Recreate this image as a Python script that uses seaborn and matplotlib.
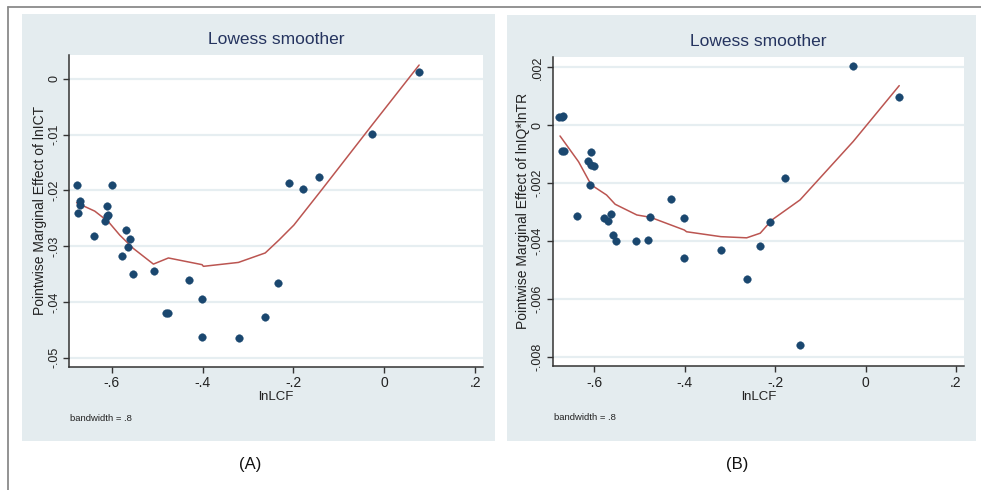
import matplotlib
matplotlib.use("Agg")
import matplotlib.pyplot as plt
import seaborn as sns
import pandas as pd
from matplotlib.patches import Rectangle
from matplotlib.lines import Line2D

# ---------------- data ----------------
a_x = [-0.677, -0.670, -0.670, -0.674, -0.638, -0.599, -0.609, -0.608, -0.611, -0.615,
       -0.569, -0.559, -0.563, -0.578, -0.553, -0.507, -0.480, -0.475, -0.430, -0.401,
       -0.401, -0.320, -0.263, -0.233, -0.210, -0.178, -0.143, -0.0265, 0.0757]
a_y = [-0.0190, -0.0219, -0.0226, -0.0240, -0.0281, -0.0190, -0.0227, -0.0244, -0.0246, -0.0255,
       -0.0271, -0.0287, -0.0302, -0.0317, -0.0349, -0.0344, -0.0420, -0.0420, -0.0361, -0.0395,
       -0.0463, -0.0464, -0.0427, -0.0365, -0.0187, -0.0198, -0.0175, -0.0099, 0.0012]
a_fit_x = [-0.677, -0.637, -0.607, -0.582, -0.552, -0.508, -0.475, -0.401, -0.398,
           -0.321, -0.262, -0.232, -0.199, -0.140, -0.0265, 0.0765]
a_fit_y = [-0.0222, -0.0237, -0.0256, -0.0280, -0.0304, -0.0332, -0.0321, -0.0333, -0.0336,
           -0.0329, -0.0312, -0.0289, -0.0262, -0.0201, -0.0082, 0.0025]

b_x = [-0.6775, -0.672, -0.669, -0.672, -0.667, -0.607, -0.614, -0.607, -0.600, -0.609,
       -0.638, -0.579, -0.569, -0.563, -0.559, -0.553, -0.507, -0.481, -0.476, -0.431,
       -0.401, -0.401, -0.320, -0.263, -0.233, -0.211, -0.179, -0.145, -0.0273, 0.0745]
b_y = [0.00027, 0.00030, 0.00032, -0.00090, -0.00089, -0.00094, -0.00122, -0.00139, -0.00141, -0.00205,
       -0.00313, -0.00321, -0.00331, -0.00308, -0.00380, -0.00399, -0.00399, -0.00397, -0.00318, -0.00255,
       -0.00321, -0.00459, -0.00431, -0.00530, -0.00418, -0.00335, -0.00183, -0.00758, 0.00205, 0.00096]
b_fit_x = [-0.676, -0.635, -0.607, -0.573, -0.554, -0.506, -0.476, -0.401, -0.396,
           -0.320, -0.263, -0.233, -0.207, -0.145, -0.0273, 0.0745]
b_fit_y = [-0.00037, -0.00126, -0.00206, -0.00241, -0.00273, -0.00310, -0.00318, -0.00362, -0.00368,
           -0.00385, -0.00389, -0.00373, -0.00327, -0.00258, -0.00056, 0.00137]

x_ticks = [-0.6, -0.4, -0.2, 0.0, 0.2]
x_tick_labels = ["-.6", "-.4", "-.2", "0", ".2"]
a_y_ticks = [0.0, -0.01, -0.02, -0.03, -0.04, -0.05]
a_y_tick_labels = ["0", "-.01", "-.02", "-.03", "-.04", "-.05"]
b_y_ticks = [0.002, 0.0, -0.002, -0.004, -0.006, -0.008]
b_y_tick_labels = [".002", "0", "-.002", "-.004", "-.006", "-.008"]

title_text = "Lowess smoother"
x_label = "lnLCF"
a_y_label = "Pointwise Marginal Effect of lnICT"
b_y_label = "Pointwise Marginal Effect of lnIQ*lnTR"
note_text = "bandwidth = .8"
panel_labels = ["(A)", "(B)"]

# ---------------- style ----------------
sns.set_theme(style="white")
REG = ["Liberation Sans", "DejaVu Sans"]
plt.rcParams["font.family"] = REG

W, H = 981, 490
fig = plt.figure(figsize=(W / 100, H / 100), dpi=100)
fig.patch.set_facecolor("white")

PANEL_BG = "#e4ecef"
GRID = "#e6eef1"
NAVY = "#1a476f"
LINE = "#bb5551"
TITLE_C = "#25345f"
AX_C = "#333333"
TXT = "#222222"


def fx(px):
    return px / W


def fy(py):
    return 1 - py / H


# outer border (top and left)
fig.add_artist(Line2D([fx(8), 1.0], [fy(7), fy(7)], color="#8a8a8a", lw=1.3))
fig.add_artist(Line2D([fx(8), fx(8)], [fy(7), 0.0], color="#8a8a8a", lw=1.3))

# panel backgrounds
for (x0, y0, x1, y1) in [(22, 14, 495, 441), (507, 15, 976, 441)]:
    fig.add_artist(Rectangle((fx(x0), fy(y1)), fx(x1 - x0), (y1 - y0) / H,
                             facecolor=PANEL_BG, edgecolor="none", zorder=0))

panels = [
    dict(box=(69.3, 55.0, 483.0, 366.7), xlim=(-0.693, 0.217), ylim=(-0.0516, 0.0043),
         x=a_x, y=a_y, fx_=a_fit_x, fy_=a_fit_y, yt=a_y_ticks, ytl=a_y_tick_labels,
         ylab=a_y_label, note=(70, 418), lab=(250, 464), plab=panel_labels[0]),
    dict(box=(552.7, 56.7, 964.3, 366.0), xlim=(-0.6922, 0.2185), ylim=(-0.00832, 0.00237),
         x=b_x, y=b_y, fx_=b_fit_x, fy_=b_fit_y, yt=b_y_ticks, ytl=b_y_tick_labels,
         ylab=b_y_label, note=(554, 417), lab=(737, 464), plab=panel_labels[1]),
]

for p in panels:
    l, t, r, b = p["box"]
    ax = fig.add_axes([fx(l), fy(b), fx(r - l), (b - t) / H])
    ax.set_facecolor("white")
    df = pd.DataFrame({"x": p["x"], "y": p["y"]})
    fit = pd.DataFrame({"x": p["fx_"], "y": p["fy_"]})
    sns.lineplot(data=fit, x="x", y="y", ax=ax, color=LINE, lw=1.1, sort=False,
                 estimator=None, zorder=3)
    sns.scatterplot(data=df, x="x", y="y", ax=ax, color=NAVY, s=30, edgecolor=NAVY,
                    linewidth=0.3, zorder=4)
    ax.set_xlim(*p["xlim"])
    ax.set_ylim(*p["ylim"])
    ax.set_xticks(x_ticks)
    ax.set_xticklabels(x_tick_labels, fontsize=10, color=TXT)
    ax.set_yticks(p["yt"])
    ax.set_yticklabels(p["ytl"], fontsize=9, color=TXT, rotation=90, va="center")
    ax.grid(axis="y", color=GRID, lw=1.6)
    ax.grid(axis="x", visible=False)
    for s in ["top", "right"]:
        ax.spines[s].set_visible(False)
    for s in ["left", "bottom"]:
        ax.spines[s].set_color(AX_C)
        ax.spines[s].set_linewidth(1.1)
    ax.tick_params(axis="both", direction="out", length=4, width=1, color=AX_C,
                   bottom=True, left=True)
    ax.tick_params(axis="x", pad=3)
    ax.tick_params(axis="y", pad=2.5)
    ax.set_xlabel(x_label, fontsize=9.5, color=TXT)
    ax.xaxis.set_label_coords(0.5, -(396.7 - b) / (b - t))
    ax.xaxis.label.set_va("center")
    ax.set_ylabel(p["ylab"], fontsize=10, color=TXT)
    ax.yaxis.set_label_coords(-29.5 / (r - l), 0.5)
    ax.yaxis.label.set_va("center")
    ax.text(0.5, 1 + 15.0 / (b - t), title_text, transform=ax.transAxes, ha="center",
            va="center", fontsize=12.5, color=TITLE_C)
    fig.text(fx(p["note"][0]), fy(p["note"][1]), note_text, fontsize=6.8,
             color=TXT, ha="left", va="center")
    fig.text(fx(p["lab"][0]), fy(p["lab"][1]), p["plab"], fontsize=12,
             color="#111111", ha="center", va="center")

fig.savefig("out.png", dpi=100)
